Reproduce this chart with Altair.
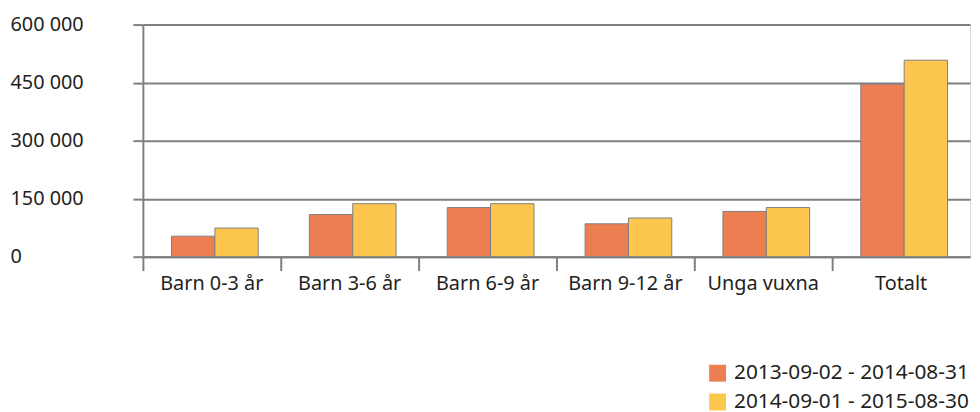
import altair as alt
import pandas as pd

categories = ["Barn 0-3 år", "Barn 3-6 år", "Barn 6-9 år", "Barn 9-12 år", "Unga vuxna", "Totalt"]
series = ["2013-09-02 - 2014-08-31", "2014-09-01 - 2015-08-30"]
values_2013 = [53000, 109000, 127000, 85000, 117000, 446000]
values_2014 = [74000, 137000, 137000, 100000, 127000, 508000]
colors = ["#EC7E52", "#FDC64E"]

rows = []
for c, a, b in zip(categories, values_2013, values_2014):
    rows.append({"kategori": c, "period": series[0], "antal": a})
    rows.append({"kategori": c, "period": series[1], "antal": b})
df = pd.DataFrame(rows)

FONT = "Noto Sans"
GRID = "#7f7f7f"
TXT = "#231f20"

chart = alt.Chart(df).mark_bar(stroke="#808080", strokeWidth=1).encode(
    x=alt.X("kategori:N", sort=categories, title=None,
            scale=alt.Scale(paddingInner=0, paddingOuter=0),
            axis=alt.Axis(labelAngle=0, labelFontSize=20, labelFont=FONT, labelColor=TXT,
                          bandPosition=0, ticks=True, tickSize=14, tickWidth=2, tickColor=GRID,
                          domainColor=GRID, domainWidth=2, labelPadding=3, grid=False)),
    xOffset=alt.XOffset("period:N", sort=series,
                        scale=alt.Scale(paddingInner=0, paddingOuter=0.59, align=0.56)),
    y=alt.Y("antal:Q", title=None,
            scale=alt.Scale(domain=[0, 600000], nice=False),
            axis=alt.Axis(values=[0, 150000, 300000, 450000, 600000],
                          labelExpr="replace(format(datum.value, ','), ',', ' ')",
                          labelAlign="left", labelPadding=124, tickSize=10, tickWidth=2,
                          tickColor=GRID, domainColor=GRID, domainWidth=2,
                          grid=True, gridColor=GRID, gridWidth=2,
                          labelFontSize=20, labelFont=FONT, labelColor=TXT,
                          labelBaseline="middle")),
    color=alt.Color("period:N", sort=series,
                    scale=alt.Scale(domain=series, range=colors),
                    legend=alt.Legend(title=None, orient="none", legendX=569, legendY=341,
                                      symbolType="square", symbolSize=290, symbolStrokeWidth=0,
                                      labelFontSize=21, labelFont=FONT, labelColor=TXT,
                                      labelLimit=0, rowPadding=7, symbolOffset=0, labelOffset=6)),
).properties(
    width=834, height=234,
    autosize=alt.AutoSizeParams(type="none"),
    padding={"left": 136, "top": 15, "right": 2, "bottom": 170},
).configure_view(stroke=None).configure(background="white")

chart.save("out.html", embed_options={"renderer": "svg", "actions": False})
